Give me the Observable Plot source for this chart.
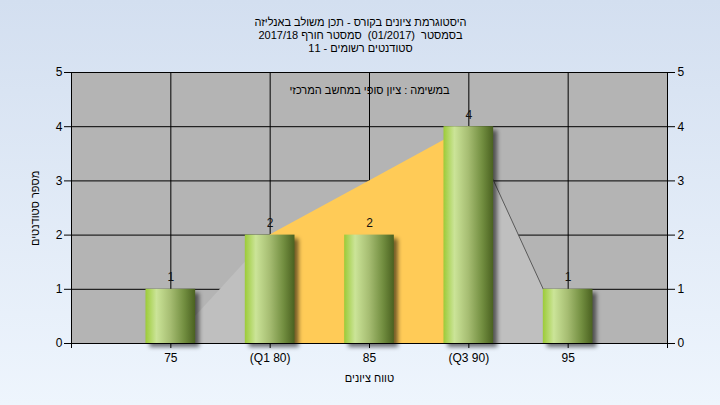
<!DOCTYPE html>
<html><head><meta charset="utf-8">
<script src="https://cdn.jsdelivr.net/npm/d3@7"></script>
<script src="https://cdn.jsdelivr.net/npm/@observablehq/plot@0.6"></script>
<style>
html,body{margin:0;padding:0;}
body{width:720px;height:405px;background:linear-gradient(#d3dff0,#eef5fd);overflow:hidden;}
</style></head><body><div id="chart"></div>
<script>
const grades = [75, 80, 85, 90, 95];
const tickLabels = ["75", "(Q1 80)", "85", "(Q3 90)", "95"];
const counts = [1, 2, 2, 4, 1];
const curve = [0, 2, 3, 4, 0];
const yTicks = [0, 1, 2, 3, 4, 5];
const titleLines = [
  "היסטוגרמת ציונים בקורס - תכן משולב באנליזה",
  "בסמסטר  (01/2017)  סמסטר חורף 2017/18",
  "סטודנטים רשומים - 11"
];
const innerTitle = "במשימה : ציון סופי במחשב המרכזי";
const yLabel = "מספר סטודנטים";
const xLabel = "טווח ציונים";
const barHalf = 1.25;

const bars = grades.map((g, i) => ({g, count: counts[i]}));
const curvePts = grades.map((g, i) => ({g, v: curve[i]}));
const seg = (a, b) => curvePts.filter(d => d.g >= a && d.g <= b);
const xTicks = [70, ...grades, 100];
const xFmt = d => { const i = grades.indexOf(d); return i < 0 ? "" : tickLabels[i]; };

const font = "'Liberation Sans', Arial, sans-serif";

const chart = Plot.plot({
  width: 720, height: 405,
  marginLeft: 71, marginRight: 53, marginTop: 72, marginBottom: 62,
  style: {background: "transparent", fontFamily: font, fontSize: "12px", color: "#000", overflow: "visible"},
  x: {domain: [70, 100], axis: null},
  y: {domain: [0, 5], axis: null},
  marks: [
    Plot.frame({fill: "#b4b4b4"}),
    Plot.gridY(yTicks, {stroke: "#000", strokeOpacity: 1}),
    Plot.gridX(grades, {stroke: "#000", strokeOpacity: 1}),
    Plot.areaY(seg(75, 80), {x: "g", y: "v", fill: "#bfbfbf"}),
    Plot.areaY(seg(80, 90), {x: "g", y: "v", fill: "#ffcb57"}),
    Plot.areaY(seg(90, 95), {x: "g", y: "v", fill: "#bfbfbf"}),
    Plot.lineY(seg(90, 95), {x: "g", y: "v", stroke: "#5a5a5a", strokeWidth: 1}),
    Plot.rectY(bars, {x1: d => d.g - barHalf, x2: d => d.g + barHalf, y1: 0, y2: "count", fill: "#000", fillOpacity: 0.55, dx: 4, dy: 4}),
    Plot.rectY(bars, {x1: d => d.g - barHalf, x2: d => d.g + barHalf, y1: 0, y2: "count", fill: "#9dcb3c"}),
    Plot.text(bars, {x: "g", y: "count", text: d => String(d.count), dy: -12, fill: "#111", fontSize: 12}),
    Plot.frame({stroke: "#000"}),
    Plot.axisY(yTicks, {anchor: "left", tickSize: 7, tickPadding: 2, tickFormat: d => String(d), fontSize: 12, label: null}),
    Plot.axisY(yTicks, {anchor: "right", tickSize: 7, tickPadding: 3, tickFormat: d => String(d), fontSize: 12, label: null}),
    Plot.axisX(xTicks, {anchor: "bottom", tickSize: 5, tickPadding: 5, tickFormat: xFmt, fontSize: 12, label: null}),
    Plot.text([yLabel], {frameAnchor: "left", dx: -36, dy: 38, rotate: -90, fontSize: 11}),
    Plot.text([xLabel], {frameAnchor: "bottom", dy: 38, fontSize: 11}),
    Plot.text([innerTitle], {frameAnchor: "top", dy: 14, fontSize: 11}),
    Plot.text([titleLines[0]], {frameAnchor: "top", dx: -9, dy: -54, fontSize: 11}),
    Plot.text([titleLines[1]], {frameAnchor: "top", dx: -9, dy: -41, fontSize: 11}),
    Plot.text([titleLines[2]], {frameAnchor: "top", dx: -9, dy: -28, fontSize: 11})
  ]
});
document.getElementById("chart").appendChild(chart);

const svg = d3.select(chart);
const defs = svg.insert("defs", ":first-child");
const grad = defs.append("linearGradient").attr("id", "barGrad").attr("x1", "0").attr("x2", "1").attr("y1", "0").attr("y2", "0");
[["0%", "#9ccb38"], ["22%", "#cbe498"], ["50%", "#a6bd72"], ["78%", "#728e40"], ["100%", "#4a6120"]]
  .forEach(([o, c]) => grad.append("stop").attr("offset", o).attr("stop-color", c));
const blur = defs.append("filter").attr("id", "shadowBlur").attr("x", "-20%").attr("y", "-20%").attr("width", "140%").attr("height", "140%");
blur.append("feGaussianBlur").attr("stdDeviation", 2);
const rectGroups = svg.selectAll("g[aria-label='rect']").nodes();
if (rectGroups.length >= 2) {
  d3.select(rectGroups[0]).attr("filter", "url(#shadowBlur)");
  d3.select(rectGroups[1]).selectAll("rect").attr("fill", "url(#barGrad)");
}
</script></body></html>
